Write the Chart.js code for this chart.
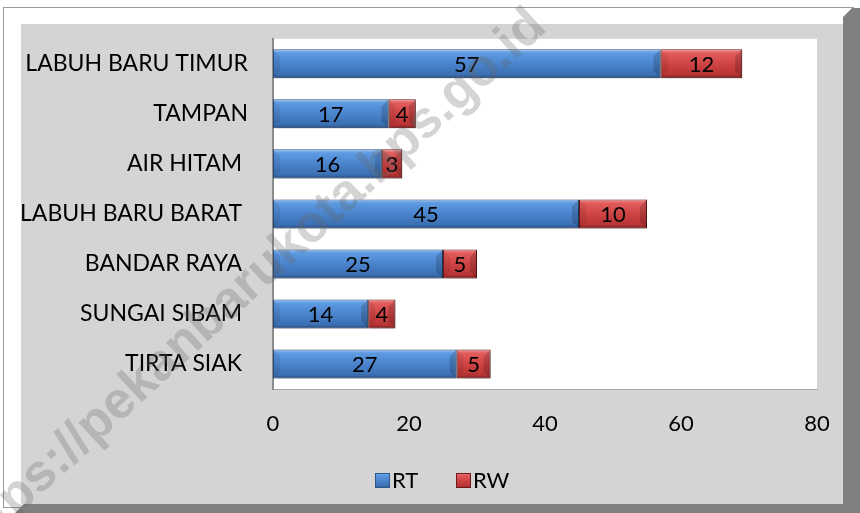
<!DOCTYPE html>
<html>
<head>
<meta charset="utf-8">
<script src="https://cdn.jsdelivr.net/npm/chart.js@4"></script>
<style>
  html, body { margin: 0; padding: 0; background: #fff; }
  #wrap { position: relative; width: 860px; height: 513px; }
</style>
</head>
<body>
<div id="wrap"><canvas id="rtChart"></canvas></div>
<script>
// data
var kelurahan = ["LABUH BARU TIMUR", "TAMPAN", "AIR HITAM ", "LABUH BARU BARAT ", "BANDAR RAYA ", "SUNGAI SIBAM ", "TIRTA SIAK "];
var jumlahRT = [57, 17, 16, 45, 25, 14, 27];
var jumlahRW = [12, 4, 3, 10, 5, 4, 5];
var xTicks = [0, 20, 40, 60, 80];

var fontName = "Lato, 'Noto Sans', sans-serif";
var BAR_PCT = 0.58;

// gradient per bar, vertical, untuk efek bevel
function barGradient(ctx, stops) {
    var chart = ctx.chart;
    if (!chart.chartArea || ctx.type !== 'data') return stops[2][1];
    var y = chart.scales.y;
    var mid = y.getPixelForValue(ctx.dataIndex);
    var half = (y.height / kelurahan.length) * BAR_PCT / 2;
    var g = chart.ctx.createLinearGradient(0, mid - half, 0, mid + half);
    stops.forEach(function (s) { g.addColorStop(s[0], s[1]); });
    return g;
}
var blueStops = [[0, "#9cc6f5"], [0.12, "#5e9be2"], [0.5, "#4a84cc"], [0.88, "#3b6fb2"], [1, "#25497c"]];
var redStops = [[0, "#f39a9a"], [0.12, "#e35d5d"], [0.5, "#cf4343"], [0.88, "#b73434"], [1, "#7a1c1c"]];

function legendBox(c, x, y, s, stops, border) {
    var g = c.createLinearGradient(0, y, 0, y + s);
    stops.forEach(function (st) { g.addColorStop(st[0], st[1]); });
    c.fillStyle = g;
    c.fillRect(x, y, s, s);
    c.strokeStyle = border;
    c.lineWidth = 1;
    c.strokeRect(x + 0.5, y + 0.5, s - 1, s - 1);
}

// sisi kiri / kanan batang (bevel)
function bevelEnds(c, el) {
    var L = Math.min(el.base, el.x), R = Math.max(el.base, el.x);
    var T = el.y - el.height / 2, B = el.y + el.height / 2;
    var b = Math.min(7, (R - L) / 2);
    c.fillStyle = "rgba(0,0,0,0.07)";
    c.beginPath();
    c.moveTo(L, T); c.lineTo(L + b, T + b); c.lineTo(L + b, B - b); c.lineTo(L, B);
    c.closePath(); c.fill();
    c.fillStyle = "rgba(0,0,0,0.16)";
    c.beginPath();
    c.moveTo(R, T); c.lineTo(R - b, T + b); c.lineTo(R - b, B - b); c.lineTo(R, B);
    c.closePath(); c.fill();
}

var framePlugin = {
    id: "frame",
    beforeDraw: function (chart) {
        var c = chart.ctx;
        c.save();
        c.fillStyle = "#ffffff";
        c.fillRect(0, 0, chart.width, chart.height);
        // garis luar tipis
        c.strokeStyle = "#9a9a9a";
        c.lineWidth = 1;
        c.strokeRect(3.5, 7.5, 850, 500);
        // bayangan gelap kanan & bawah
        c.fillStyle = "#808080";
        c.beginPath();
        c.moveTo(843, 17);
        c.lineTo(852, 8);
        c.lineTo(860, 8);
        c.lineTo(860, 513);
        c.lineTo(15, 513);
        c.lineTo(24, 504);
        c.lineTo(843, 504);
        c.closePath();
        c.fill();
        // area abu-abu
        c.fillStyle = "#d4d4d4";
        c.fillRect(21, 24, 822, 480);
        // plot area putih
        var a = chart.chartArea;
        c.fillStyle = "#ffffff";
        c.fillRect(a.left, a.top, a.right - a.left, a.bottom - a.top);
        c.restore();
    },
    beforeDatasetsDraw: function (chart) {
        var c = chart.ctx;
        c.save();
        c.shadowColor = "rgba(0,0,0,0.35)";
        c.shadowBlur = 5;
        c.shadowOffsetX = 1;
        c.shadowOffsetY = 3;
    },
    afterDatasetsDraw: function (chart) {
        var c = chart.ctx;
        c.restore();
        c.save();
        chart.data.datasets.forEach(function (ds, i) {
            chart.getDatasetMeta(i).data.forEach(function (el) { bevelEnds(c, el); });
        });
        // angka di tengah batang
        c.fillStyle = "#000";
        c.font = "22px " + fontName;
        c.textAlign = "center";
        c.textBaseline = "middle";
        chart.data.datasets.forEach(function (ds, i) {
            var meta = chart.getDatasetMeta(i);
            meta.data.forEach(function (el, j) {
                c.fillText(String(ds.data[j]), (el.x + el.base) / 2, el.y + 1);
            });
        });
        c.restore();
    },
    afterDraw: function (chart) {
        var c = chart.ctx;
        // legend manual
        c.save();
        c.font = "22px " + fontName;
        c.textBaseline = "middle";
        var ly = 480;
        legendBox(c, 375, ly - 7, 15, blueStops, "#2f5689");
        c.fillStyle = "#000";
        c.fillText("RT", 392, ly + 1);
        legendBox(c, 456, ly - 7, 15, redStops, "#6e1a1a");
        c.fillStyle = "#000";
        c.fillText("RW", 473, ly + 1);
        c.restore();

        // watermark
        c.save();
        c.font = "bold 52px 'Liberation Sans', Arial, sans-serif";
        var pre = c.measureText("htt").width;
        c.translate(6, 507);
        c.rotate(-Math.atan2(513, 560));
        c.fillStyle = "rgba(100,100,100,0.28)";
        c.textBaseline = "middle";
        c.fillText("https://pekanbarukota.bps.go.id", -pre, 0);
        c.restore();
    }
};

var canvasElement = document.getElementById("rtChart");
var config = {
    type: "bar",
    data: {
        labels: kelurahan,
        datasets: [{
            label: "RT",
            data: jumlahRT,
            backgroundColor: function (ctx) { return barGradient(ctx, blueStops); },
            borderColor: "#2f5689",
            borderWidth: 1,
            borderSkipped: false,
            barPercentage: BAR_PCT,
            categoryPercentage: 1
        }, {
            label: "RW",
            data: jumlahRW,
            backgroundColor: function (ctx) { return barGradient(ctx, redStops); },
            borderColor: "#6e1a1a",
            borderWidth: 1,
            borderSkipped: false,
            barPercentage: BAR_PCT,
            categoryPercentage: 1
        }]
    },
    options: {
        indexAxis: "y",
        responsive: true,
        maintainAspectRatio: false,
        animation: false,
        layout: { padding: { left: 0, top: 37, right: 43, bottom: 62 } },
        scales: {
            x: {
                stacked: true,
                min: 0,
                max: 80,
                afterBuildTicks: function (scale) {
                    scale.ticks = xTicks.map(function (v) { return { value: v }; });
                },
                afterFit: function (scale) { scale.height = 62; },
                grid: { display: false, drawTicks: false },
                border: { display: true, color: "#a6a6a6", width: 1 },
                ticks: { color: "#000", padding: 22, font: { family: fontName, size: 22 } }
            },
            y: {
                stacked: true,
                afterFit: function (scale) { scale.width = 273; },
                grid: { display: false, drawTicks: false },
                border: { display: true, color: "#8c8c8c", width: 2 },
                ticks: { color: "#000", padding: 25, font: { family: fontName, size: 23 } }
            }
        },
        plugins: {
            legend: { display: false },
            tooltip: { enabled: false }
        }
    },
    plugins: [framePlugin]
};

var barChart = new Chart(canvasElement, config);
</script>
</body>
</html>
